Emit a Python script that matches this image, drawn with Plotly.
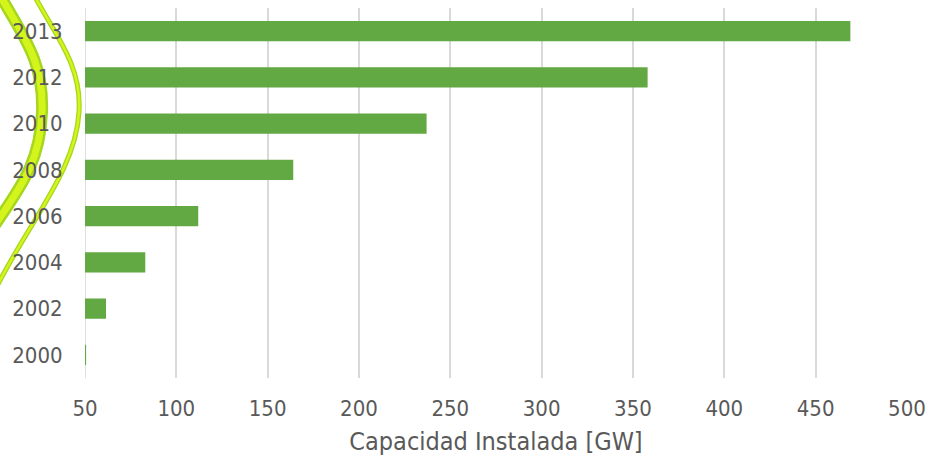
import plotly.graph_objects as go

years = ["2000", "2002", "2004", "2006", "2008", "2010", "2012", "2013"]
capacity = [50.6, 61.5, 83, 112, 164, 237, 358, 469]
x_ticks = [50, 100, 150, 200, 250, 300, 350, 400, 450, 500]

W, H = 928, 458
L, R, T, B = 85, 21, 8, 80
pw, ph = W - L - R, H - T - B

def px(x, y):
    return (x - L) / pw, (H - B - y) / ph

def path(points):
    pts = [px(*p) for p in points]
    s = f"M {pts[0][0]:.4f},{pts[0][1]:.4f}"
    for i in range(1, len(pts) - 2, 3):
        a, b, c = pts[i], pts[i + 1], pts[i + 2]
        s += f" C {a[0]:.4f},{a[1]:.4f} {b[0]:.4f},{b[1]:.4f} {c[0]:.4f},{c[1]:.4f}"
    return s

curve1 = [(0, -5), (22, 35), (44, 60), (42, 112), (40, 165), (18, 190), (-5, 225)]
curve2 = [(34, -5), (55, 35), (82, 65), (79, 112), (76, 170), (30, 220), (-5, 290)]

fig = go.Figure(go.Bar(
    y=years, x=capacity, orientation="h",
    marker=dict(color="#62A843", line=dict(width=0)),
))

shapes = []
for c, wo, wi in [(curve1, 12, 7), (curve2, 5, 2.5)]:
    shapes.append(dict(type="path", xref="paper", yref="paper", path=path(c),
                       line=dict(color="#A6D61E", width=wo), layer="below"))
    shapes.append(dict(type="path", xref="paper", yref="paper", path=path(c),
                       line=dict(color="#D4F51C", width=wi), layer="below"))

fig.update_layout(
    width=W, height=H,
    margin=dict(l=L, r=R, t=T, b=B),
    paper_bgcolor="white", plot_bgcolor="white",
    bargap=0.56,
    showlegend=False,
    shapes=shapes,
    font=dict(family="DejaVu Sans Condensed, DejaVu Sans", color="#595959", size=22),
    xaxis=dict(
        range=[50, 500], tickvals=x_ticks, showgrid=True, gridcolor="#D9D9D9", gridwidth=1.5,
        zeroline=False, showline=False, ticks="outside", ticklen=11, tickcolor="rgba(0,0,0,0)",
        automargin=False,
        title=dict(text="Capacidad Instalada [GW]", font=dict(size=25, color="#595959"), standoff=12),
        tickfont=dict(size=22, color="#595959"),
    ),
    yaxis=dict(
        categoryorder="array", categoryarray=years, showgrid=False, zeroline=False,
        showline=False, ticks="outside", ticklen=17, tickcolor="rgba(0,0,0,0)",
        automargin=False,
        tickfont=dict(size=22, color="#595959"),
    ),
)
fig.add_shape(type="line", xref="x", yref="paper", x0=50, x1=50, y0=0, y1=1,
              line=dict(color="#D0D8CC", width=1.5), layer="below")

fig.write_html("out.html")
